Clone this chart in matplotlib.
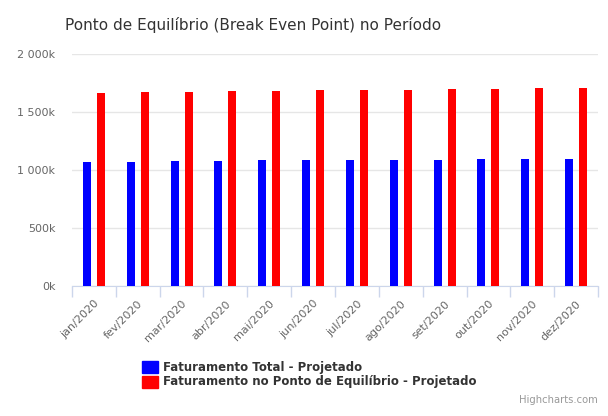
import numpy as np
import matplotlib
matplotlib.use('Agg')
import matplotlib.pyplot as plt
from matplotlib.patches import Rectangle

meses = ['jan/2020', 'fev/2020', 'mar/2020', 'abr/2020', 'mai/2020', 'jun/2020',
         'jul/2020', 'ago/2020', 'set/2020', 'out/2020', 'nov/2020', 'dez/2020']
# valores em milhares (k)
fat_total = [1072, 1073, 1078, 1080, 1082, 1084, 1086, 1088, 1090, 1093, 1095, 1097]
fat_equilibrio = [1666, 1670, 1675, 1679, 1683, 1687, 1690, 1693, 1697, 1700, 1704, 1710]
yticks = [0, 500, 1000, 1500, 2000]
ytick_labels = ['0k', '500k', '1 000k', '1 500k', '2 000k']

plt.rcParams['font.family'] = ['DejaVu Sans']

fig = plt.figure(figsize=(6.08, 4.16), dpi=100)
ax = fig.add_axes([72/608, 1 - 286/416, 526/608, 232/416])

x = np.arange(len(meses))
w = 0.18
ax.bar(x - 0.16, fat_total, width=w, color='#0000ff', zorder=3)
ax.bar(x + 0.16, fat_equilibrio, width=w, color='#ff0000', zorder=3)

ax.set_xlim(-0.5, len(meses) - 0.5)
ax.set_ylim(0, 2000)
ax.set_yticks(yticks)
ax.set_yticklabels(ytick_labels)
ax.yaxis.grid(True, color='#e6e6e6', linewidth=1, zorder=0)
ax.tick_params(axis='y', length=0, labelsize=8, labelcolor='#666666', pad=12)

# ticks do eixo x nas fronteiras das categorias
ax.set_xticks(np.arange(len(meses) + 1) - 0.5)
ax.set_xticklabels([])
ax.tick_params(axis='x', which='major', length=8, color='#ccd6eb', width=1)
ax.set_xticks(x, minor=True)
ax.set_xticklabels(meses, minor=True, rotation=45, ha='right', va='top',
                   rotation_mode='anchor', fontsize=8, color='#666666')
ax.tick_params(axis='x', which='minor', length=0, pad=9)

for s in ['top', 'right', 'left']:
    ax.spines[s].set_visible(False)
ax.spines['bottom'].set_color('#ccd6eb')

fig.text(65/608, 1 - 25/416, 'Ponto de Equilíbrio (Break Even Point) no Período',
         fontsize=11, color='#333333', va='center', ha='left')

# legenda
itens = [('#0000ff', 'Faturamento Total - Projetado'),
         ('#ff0000', 'Faturamento no Ponto de Equilíbrio - Projetado')]
for i, (cor, txt) in enumerate(itens):
    y0 = 361 + i * 14.5
    fig.patches.append(Rectangle((142/608, 1 - (y0 + 12)/416), 16/608, 12/416,
                                 transform=fig.transFigure, color=cor))
    fig.text(163/608, 1 - (y0 + 6)/416, txt, fontsize=8.5, fontweight='bold',
             color='#333333', va='center', ha='left')

fig.text(598/608, 1 - 400/416, 'Highcharts.com', fontsize=7.2, color='#999999',
         ha='right', va='center')

fig.savefig('out.png', dpi=100)
